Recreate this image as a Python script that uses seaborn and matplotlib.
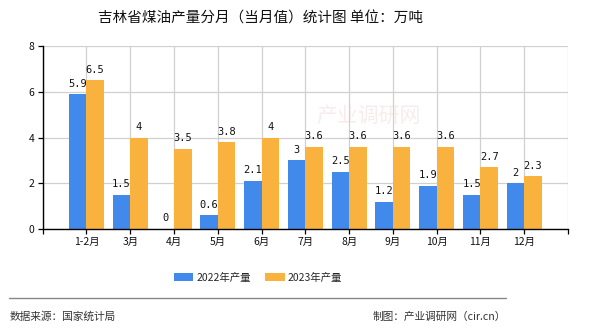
import matplotlib
matplotlib.use("Agg")
import matplotlib.pyplot as plt
import seaborn as sns
import pandas as pd
from matplotlib.patches import Patch
from matplotlib.lines import Line2D

months = ["1-2月", "3月", "4月", "5月", "6月", "7月", "8月", "9月", "10月", "11月", "12月"]
series_names = ["2022年产量", "2023年产量"]
values_2022 = [5.9, 1.5, 0, 0.6, 2.1, 3, 2.5, 1.2, 1.9, 1.5, 2]
values_2023 = [6.5, 4, 3.5, 3.8, 4, 3.6, 3.6, 3.6, 3.6, 2.7, 2.3]
colors = ["#4189EA", "#FAB23F"]
title = "吉林省煤油产量分月（当月值）统计图 单位：万吨"
source_text = "数据来源：国家统计局"
credit_text = "制图：产业调研网（cir.cn）"

df = pd.DataFrame({
    "month": months * 2,
    "value": values_2022 + values_2023,
    "series": [series_names[0]] * len(months) + [series_names[1]] * len(months),
})

sns.set_theme(style="white")
plt.rcParams["font.family"] = ["Noto Sans CJK SC", "DejaVu Sans"]

fig = plt.figure(figsize=(5.9, 3.3), dpi=100)
ax = fig.add_axes([0.0724, 0.306, 0.8903, 0.5545])

sns.barplot(data=df, x="month", y="value", hue="series", order=months,
            hue_order=series_names, palette=colors, width=0.8, gap=0,
            saturation=1, ax=ax, legend=False, errorbar=None, linewidth=0)

ax.set_xlim(-1, len(months))
ax.set_ylim(0, 8)
ax.set_yticks([0, 2, 4, 6, 8])
ax.set_xticks(range(-1, len(months) + 1))
ax.set_xticklabels([""] + months + [""])
ax.set_xlabel("")
ax.set_ylabel("")

ax.grid(True, axis="both", color="#D0D0D0", linewidth=0.9)
ax.set_axisbelow(True)
for s in ["top", "right"]:
    ax.spines[s].set_visible(False)
for s in ["left", "bottom"]:
    ax.spines[s].set_color("black")
    ax.spines[s].set_linewidth(1.0)

ax.tick_params(axis="both", which="both", length=3.5, width=0.9, color="black",
               labelsize=7.5, labelcolor="#111111", pad=2.5,
               bottom=True, left=True)

for cont in ax.containers:
    ax.bar_label(cont, labels=[f"{v:g}" for v in cont.datavalues], padding=4,
                 fontsize=7.5, family=["DejaVu Sans Mono"], color="#111111")

# faint watermark
ax.text(0.62, 0.62, "产业调研网", transform=ax.transAxes, ha="center", va="center",
        fontsize=15, color="#F3D9D9", alpha=0.5, zorder=0.5)

fig.text(260 / 590, 0.945, title, ha="center", va="center", fontsize=10.5, color="#111111")

handles = [Patch(facecolor=c, edgecolor="none") for c in colors]
fig.legend(handles, series_names, loc="center", bbox_to_anchor=(258 / 590, 0.158), ncol=2,
           frameon=False, fontsize=7.5, handlelength=1.85, handleheight=0.75,
           handletextpad=0.3, columnspacing=1.4)

fig.add_artist(Line2D([9 / 590, 506 / 590], [32 / 330, 32 / 330], color="#888888",
                      linewidth=1.0, transform=fig.transFigure))
fig.text(10 / 590, 0.040, source_text, ha="left", va="center", fontsize=7.7, color="#333333")
fig.text(506 / 590, 0.040, credit_text, ha="right", va="center", fontsize=7.7, color="#333333")

fig.savefig("out.png", dpi=100)
